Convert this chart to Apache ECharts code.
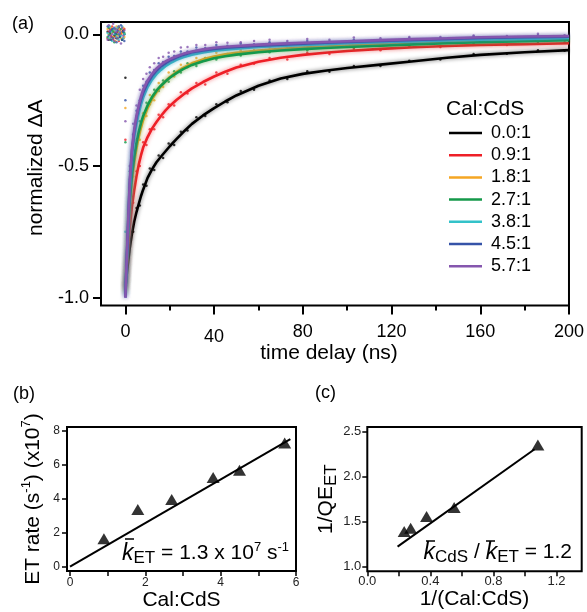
<!DOCTYPE html>
<html><head><meta charset="utf-8">
<script src="https://cdn.jsdelivr.net/npm/echarts@6/dist/echarts.min.js"></script>
<style>html,body{margin:0;padding:0;background:#fff}#c{width:587px;height:612px}</style>
</head><body><div id="c"></div>
<script>
// ---------- Panel (a) data ----------
const seriesNames = ['0.0:1','0.9:1','1.8:1','2.7:1','3.8:1','4.5:1','5.7:1'];
const fitTime = [0,0.5,1,1.5,2,3,4,5,6,7,8,10,12,14,16,18,20,23,26,30,35,40,45,50,60,70,80,90,100,115,130,145,160,180,200];
const fit00 = [-0.96,-0.92,-0.88,-0.845,-0.81,-0.755,-0.71,-0.675,-0.645,-0.615,-0.59,-0.545,-0.513,-0.486,-0.465,-0.445,-0.425,-0.398,-0.372,-0.34,-0.308,-0.28,-0.255,-0.232,-0.195,-0.168,-0.15,-0.138,-0.128,-0.115,-0.102,-0.089,-0.078,-0.068,-0.06];
const fit09 = [-0.97,-0.90,-0.84,-0.78,-0.73,-0.65,-0.59,-0.538,-0.495,-0.46,-0.43,-0.39,-0.358,-0.333,-0.31,-0.29,-0.272,-0.249,-0.229,-0.205,-0.181,-0.16,-0.142,-0.126,-0.104,-0.089,-0.078,-0.07,-0.063,-0.055,-0.049,-0.044,-0.04,-0.037,-0.034];
const fit18 = [-0.98,-0.89,-0.80,-0.72,-0.65,-0.55,-0.485,-0.433,-0.39,-0.355,-0.325,-0.28,-0.246,-0.22,-0.198,-0.179,-0.163,-0.143,-0.127,-0.11,-0.095,-0.084,-0.076,-0.07,-0.061,-0.055,-0.05,-0.046,-0.042,-0.037,-0.033,-0.029,-0.026,-0.021,-0.017];
const fit27 = [-0.98,-0.88,-0.79,-0.70,-0.63,-0.53,-0.465,-0.412,-0.37,-0.337,-0.31,-0.27,-0.238,-0.214,-0.195,-0.179,-0.165,-0.147,-0.132,-0.116,-0.102,-0.091,-0.083,-0.077,-0.068,-0.061,-0.056,-0.052,-0.048,-0.043,-0.038,-0.034,-0.03,-0.026,-0.022];
const fit38 = [-0.99,-0.88,-0.78,-0.67,-0.58,-0.46,-0.39,-0.34,-0.30,-0.267,-0.24,-0.20,-0.172,-0.151,-0.135,-0.121,-0.11,-0.097,-0.087,-0.077,-0.069,-0.062,-0.058,-0.054,-0.048,-0.044,-0.04,-0.037,-0.034,-0.03,-0.027,-0.023,-0.02,-0.017,-0.014];
const fit45 = [-1.0,-0.88,-0.77,-0.66,-0.56,-0.44,-0.37,-0.318,-0.28,-0.248,-0.222,-0.185,-0.158,-0.138,-0.122,-0.11,-0.1,-0.088,-0.078,-0.068,-0.061,-0.055,-0.051,-0.048,-0.043,-0.039,-0.035,-0.032,-0.029,-0.025,-0.021,-0.017,-0.014,-0.011,-0.009];
const fit57 = [-1.0,-0.87,-0.76,-0.65,-0.55,-0.43,-0.36,-0.308,-0.27,-0.237,-0.21,-0.175,-0.15,-0.13,-0.115,-0.103,-0.094,-0.083,-0.074,-0.065,-0.057,-0.051,-0.047,-0.044,-0.039,-0.035,-0.032,-0.029,-0.026,-0.022,-0.018,-0.015,-0.011,-0.008,-0.006];

// raw points before time zero
const preTime = [-8,-7.5,-7,-6.5,-6,-5.5,-5,-4.5,-4,-3.5,-3,-2.5,-2,-1.5,-1,-0.5];
const pre00 = [0.01,-0.02,0.005,0.015,-0.01,0.02,-0.005,0.0,-0.015,0.01,0.025,-0.01,0.005,-0.02,0.015,0.0];
const pre09 = [-0.015,0.01,0.02,-0.005,0.03,-0.02,0.01,-0.01,0.005,0.02,-0.025,0.015,0.0,0.01,-0.015,0.02];
const pre18 = [0.02,0.0,-0.015,0.025,0.005,-0.01,0.015,-0.025,0.03,-0.005,0.01,0.02,-0.015,0.005,0.025,-0.01];
const pre27 = [-0.01,0.025,0.0,-0.02,0.015,0.01,-0.03,0.02,0.0,-0.015,0.03,-0.005,0.02,-0.02,0.01,0.005];
const pre38 = [0.005,-0.015,0.03,0.01,-0.025,0.02,0.0,0.015,-0.01,0.025,-0.02,0.01,-0.005,0.03,-0.015,0.0];
const pre45 = [0.03,-0.005,0.01,-0.02,0.02,-0.015,0.025,0.005,-0.03,0.015,0.0,-0.01,0.035,-0.02,0.01,-0.025];
const pre57 = [-0.02,0.035,0.015,-0.01,0.0,0.04,-0.025,0.02,0.01,-0.015,0.03,0.005,-0.035,0.025,-0.005,0.015];

// raw points after time zero
const rawTime = [0,2,3.5,5,6.5,8,9.5,11,13,15,17,19.5,22,25,28,32,36,41,46,52,58,65,73,82,92,103,115,128,142,157,172,186,198];
const raw00 = [-0.165,-0.78,-0.75,-0.66,-0.65,-0.57,-0.575,-0.51,-0.515,-0.46,-0.47,-0.415,-0.42,-0.37,-0.365,-0.315,-0.31,-0.265,-0.258,-0.215,-0.21,-0.175,-0.17,-0.14,-0.142,-0.12,-0.12,-0.1,-0.095,-0.075,-0.074,-0.06,-0.062];
const raw09 = [-0.40,-0.70,-0.64,-0.52,-0.50,-0.41,-0.42,-0.36,-0.36,-0.305,-0.315,-0.265,-0.27,-0.22,-0.225,-0.185,-0.19,-0.145,-0.15,-0.115,-0.112,-0.09,-0.095,-0.07,-0.075,-0.055,-0.06,-0.045,-0.048,-0.035,-0.04,-0.033,-0.03];
const raw18 = [-0.28,-0.62,-0.54,-0.40,-0.40,-0.30,-0.31,-0.23,-0.25,-0.185,-0.20,-0.145,-0.16,-0.115,-0.125,-0.09,-0.1,-0.07,-0.078,-0.06,-0.06,-0.05,-0.056,-0.04,-0.046,-0.035,-0.04,-0.028,-0.03,-0.02,-0.025,-0.015,-0.018];
const raw27 = [-0.41,-0.60,-0.47,-0.43,-0.33,-0.32,-0.26,-0.265,-0.21,-0.215,-0.175,-0.18,-0.14,-0.145,-0.11,-0.12,-0.09,-0.095,-0.075,-0.08,-0.063,-0.068,-0.055,-0.06,-0.046,-0.05,-0.04,-0.042,-0.033,-0.03,-0.026,-0.028,-0.02];
const raw38 = [-0.75,-0.55,-0.40,-0.32,-0.27,-0.215,-0.2,-0.165,-0.15,-0.125,-0.12,-0.1,-0.095,-0.075,-0.075,-0.06,-0.062,-0.05,-0.05,-0.042,-0.045,-0.035,-0.04,-0.032,-0.035,-0.025,-0.03,-0.022,-0.025,-0.015,-0.017,-0.012,-0.013];
const raw45 = [-0.25,-0.52,-0.38,-0.29,-0.25,-0.195,-0.18,-0.145,-0.135,-0.11,-0.105,-0.085,-0.082,-0.065,-0.065,-0.05,-0.052,-0.04,-0.043,-0.035,-0.038,-0.03,-0.032,-0.025,-0.027,-0.02,-0.022,-0.015,-0.016,-0.008,-0.01,-0.004,-0.006];
const raw57 = [-0.33,-0.50,-0.34,-0.27,-0.21,-0.17,-0.15,-0.125,-0.11,-0.09,-0.085,-0.07,-0.065,-0.05,-0.048,-0.04,-0.04,-0.03,-0.032,-0.03,-0.025,-0.02,-0.025,-0.018,-0.02,-0.012,-0.015,-0.01,-0.01,-0.004,-0.006,0.002,-0.003];

const xTicksA = [0,40,80,120,160,200];
const xLabelsA = [0,80,120,160,200];
const xLowLabelsA = [40];
const xMinorTicksA = [20,60,100,140,180];
const yTicksA = [-1,-0.5,0];

// ---------- Panel (b) data ----------
const ratioB = [0.9,1.8,2.7,3.8,4.5,5.7];
const rateB = [1.64,3.36,3.95,5.24,5.67,7.27];
const fitLineBx = [0,5.85];
const fitLineBy = [0,7.5];
const xTicksB = [0,1,2,3,4,5,6];
const xLabelsB = [0,2,4,6];
const yTicksB = [0,2,4,6,8];

// ---------- Panel (c) data ----------
const invRatioC = [0.234,0.275,0.376,0.551,1.082];
const invQeC = [1.389,1.427,1.556,1.656,2.352];
const fitLineCx = [0.192,1.061];
const fitLineCy = [1.222,2.304];
const xTicksC = [0,0.2,0.4,0.6,0.8,1.0,1.2];
const xLabelsC = [0,0.4,0.8,1.2];
const yTicksC = [1.0,1.5,2.0,2.5];

// ---------- styling ----------
const FONT = 'Liberation Sans, Arial, sans-serif';
const colors = ['#000000','#ee1f27','#f5a623','#14994a','#33c2c9','#3553a8','#8556ae'];
const fits = [fit00,fit09,fit18,fit27,fit38,fit45,fit57];
const pres = [pre00,pre09,pre18,pre27,pre38,pre45,pre57];
const raws = [raw00,raw09,raw18,raw27,raw38,raw45,raw57];

const zip = (a,b) => a.map((v,i)=>[v,b[i]]);

const series = [];
raws.forEach((r,i)=>{
  series.push({type:'scatter', name: seriesNames[i]+' data', xAxisIndex:0, yAxisIndex:0,
    data: zip(preTime, pres[i]).concat(zip(rawTime, r)), symbolSize: 2.5,
    itemStyle:{color: colors[i]}, silent:true, z:2});
});
fits.forEach((f,i)=>{
  series.push({type:'line', name: seriesNames[i], xAxisIndex:0, yAxisIndex:0,
    data: zip(fitTime, f), smooth:false, showSymbol:false,
    itemStyle:{color: colors[i]},
    lineStyle:{color: colors[i], width:2.6, shadowColor: colors[i] + '99', shadowBlur:4}, z:3});
});
series.push({type:'line', xAxisIndex:2, yAxisIndex:1, data: zip(fitLineBx, fitLineBy),
  showSymbol:false, lineStyle:{color:'#000', width:2}, z:3});
series.push({type:'scatter', xAxisIndex:2, yAxisIndex:1, data: zip(ratioB, rateB),
  symbol:'triangle', symbolSize:[13,11], itemStyle:{color:'#000'}, z:4});
series.push({type:'line', xAxisIndex:3, yAxisIndex:2, data: zip(fitLineCx, fitLineCy),
  showSymbol:false, lineStyle:{color:'#000', width:2}, z:3});
series.push({type:'scatter', xAxisIndex:3, yAxisIndex:2, data: zip(invRatioC, invQeC),
  symbol:'triangle', symbolSize:[13,11], itemStyle:{color:'#000'}, z:4});

const tickStyle = w => ({color:'#000', width:w});
const noLine = {show:false, onZero:false};
const supRich = {
  n:{fontSize:21, lineHeight:26, fontFamily:FONT, color:'#000'},
  sup:{fontSize:13, lineHeight:10, verticalAlign:'top', fontFamily:FONT, color:'#000'},
  sub:{fontSize:17, lineHeight:14, verticalAlign:'bottom', fontFamily:FONT, color:'#000'},
  k:{fontSize:23, lineHeight:26, fontStyle:'italic', fontFamily:FONT, color:'#000'}
};

const option = {
  animation:false,
  textStyle:{fontFamily:FONT, color:'#000'},
  grid:[
    {left:101, top:22, width:469, height:283.5, show:true, borderColor:'#000', borderWidth:2},
    {left:67, top:427, width:229, height:144.3, show:true, borderColor:'#000', borderWidth:2},
    {left:367.3, top:427, width:214.4, height:144.3, show:true, borderColor:'#000', borderWidth:2}
  ],
  xAxis:[
    {gridIndex:0, type:'value', min:-11, max:200, position:'bottom',
      axisLine:noLine, splitLine:{show:false},
      axisTick:{customValues:xTicksA, length:9, lineStyle:tickStyle(2)},
      axisLabel:{customValues:xLabelsA, margin:18, fontSize:18, color:'#000'},
      name:'time delay (ns)', nameLocation:'middle', nameGap:36,
      nameTextStyle:{fontSize:21, color:'#000', padding:[0,12,0,0]}},
    {gridIndex:0, type:'value', min:-11, max:200, position:'bottom',
      axisLine:noLine, splitLine:{show:false},
      axisTick:{customValues:xMinorTicksA, length:5, lineStyle:tickStyle(2)},
      axisLabel:{customValues:xLowLabelsA, margin:23, fontSize:18, color:'#000'}},
    {gridIndex:1, type:'value', min:-0.08, max:6, position:'bottom',
      axisLine:noLine, splitLine:{show:false},
      axisTick:{customValues:xTicksB, length:5, lineStyle:tickStyle(1.5)},
      axisLabel:{customValues:xLabelsB, margin:6, fontSize:12, color:'#222'},
      name:'Cal:CdS', nameLocation:'middle', nameGap:16,
      nameTextStyle:{fontSize:21, color:'#000'}},
    {gridIndex:2, type:'value', min:0, max:1.36, position:'bottom',
      axisLine:noLine, splitLine:{show:false},
      axisTick:{customValues:xTicksC, length:5, lineStyle:tickStyle(1.5)},
      axisLabel:{customValues:xLabelsC, margin:4, fontSize:13, color:'#222', formatter:v=>v.toFixed(1)},
      name:'1/(Cal:CdS)', nameLocation:'middle', nameGap:16,
      nameTextStyle:{fontSize:21, color:'#000'}}
  ],
  yAxis:[
    {gridIndex:0, type:'value', min:-1.03, max:0.047, position:'left',
      axisLine:noLine, splitLine:{show:false},
      axisTick:{customValues:yTicksA, length:8, lineStyle:tickStyle(2)},
      axisLabel:{customValues:yTicksA, margin:12, fontSize:18, color:'#000', formatter:v=>v.toFixed(1)},
      name:'normalized ΔA', nameLocation:'middle', nameGap:50, nameRotate:90,
      nameTextStyle:{fontSize:21, color:'#000', padding:[0,8,0,0]}},
    {gridIndex:1, type:'value', min:-0.27, max:8.22, position:'left',
      axisLine:noLine, splitLine:{show:false},
      axisTick:{customValues:yTicksB, length:5, lineStyle:tickStyle(1.5)},
      axisLabel:{customValues:yTicksB, margin:7, fontSize:12, color:'#222'},
      name:'{n|ET rate (s}{sup|-1}{n|) (x10}{sup|7}{n|)}', nameLocation:'middle', nameGap:21, nameRotate:90,
      nameTextStyle:{fontSize:21, rich:supRich}},
    {gridIndex:2, type:'value', min:0.947, max:2.552, position:'left',
      axisLine:noLine, splitLine:{show:false},
      axisTick:{customValues:yTicksC, length:5, lineStyle:tickStyle(1.5)},
      axisLabel:{customValues:yTicksC, margin:6, fontSize:13, color:'#222', formatter:v=>v.toFixed(1)},
      name:'{n|1/QE}{sub|ET}', nameLocation:'middle', nameGap:27, nameRotate:90,
      nameTextStyle:{fontSize:21, rich:supRich}}
  ],
  legend:{data:seriesNames, orient:'vertical', left:449, top:122, padding:0, icon:'rect',
    itemWidth:33, itemHeight:2.5, itemGap:0.2, selectedMode:false,
    textStyle:{fontSize:18, lineHeight:22, color:'#000', padding:[0,0,0,4]}},
  graphic:[
    {type:'text', left:12, top:15, style:{text:'(a)', fontSize:18, fontFamily:FONT, fill:'#000'}},
    {type:'text', left:13, top:385, style:{text:'(b)', fontSize:18, fontFamily:FONT, fill:'#000'}},
    {type:'text', left:315, top:384, style:{text:'(c)', fontSize:18, fontFamily:FONT, fill:'#000'}},
    {type:'text', x:446, y:109.5, style:{text:'Cal:CdS', fontSize:21, fontFamily:FONT, fill:'#000', align:'left', verticalAlign:'middle'}},
    {type:'text', x:289, y:553.5, z:10, style:{text:'{k|k}{sub|ET}{n| = 1.3 x 10}{sup|7}{n| s}{sup|-1}', rich:supRich, fontFamily:FONT, align:'right', verticalAlign:'middle'}},
    {type:'text', x:572, y:552.5, z:10, style:{text:'{k|k}{sub|CdS}{n| / }{k|k}{sub|ET}{n| = 1.2}', rich:supRich, fontFamily:FONT, align:'right', verticalAlign:'middle'}},
    {type:'line', z:10, shape:{x1:125, y1:539, x2:134, y2:539}, style:{stroke:'#000', lineWidth:1.5}},
    {type:'line', z:10, shape:{x1:426, y1:541, x2:435, y2:541}, style:{stroke:'#000', lineWidth:1.5}},
    {type:'line', z:10, shape:{x1:486, y1:541, x2:495, y2:541}, style:{stroke:'#000', lineWidth:1.5}}
  ],
  series: series
};
const chart = echarts.init(document.getElementById('c'), null, {renderer:'canvas'});
chart.setOption(option);
</script></body></html>
